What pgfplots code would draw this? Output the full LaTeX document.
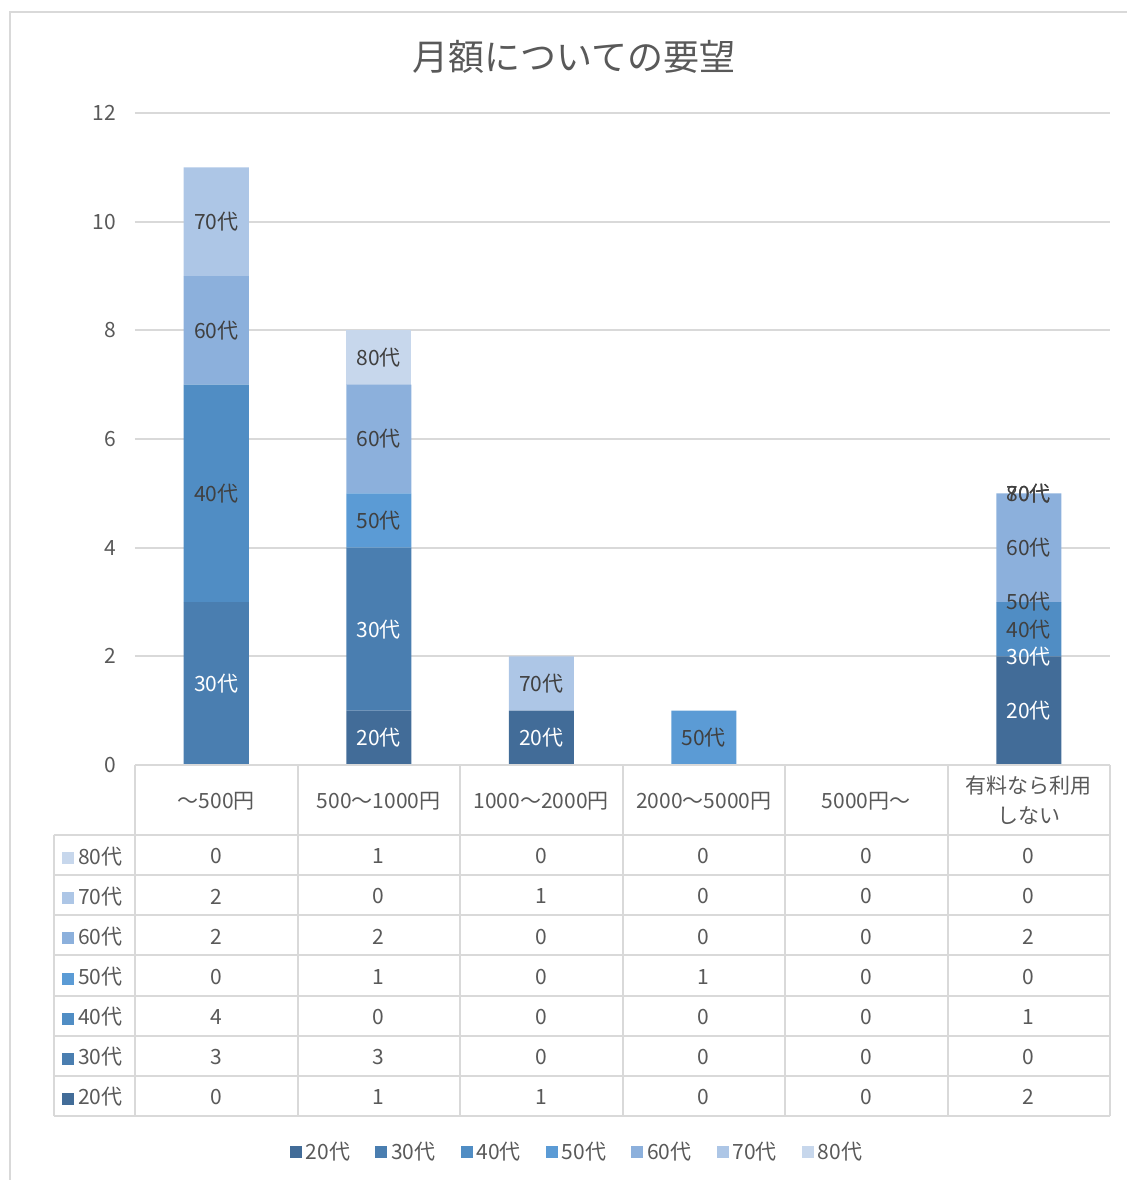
\documentclass[border=0pt]{standalone}
\usepackage{pgfplots}
\pgfplotsset{compat=1.18}
\usepackage{pgfplotstable}
\usepackage{fontspec}
\setmainfont{Noto Sans CJK JP}
\definecolor{c20}{HTML}{426C98}
\definecolor{c30}{HTML}{4A7EB0}
\definecolor{c40}{HTML}{508DC4}
\definecolor{c50}{HTML}{5B9BD5}
\definecolor{c60}{HTML}{8CB0DC}
\definecolor{c70}{HTML}{ADC6E6}
\definecolor{c80}{HTML}{C7D7EC}
\definecolor{txt}{HTML}{595959}
\definecolor{lbl}{HTML}{404040}
\definecolor{gridc}{HTML}{D9D9D9}
\newcommand{\fs}{\fontsize{10.5}{15}\selectfont}

\pgfplotstableread{
x a20 a30 a40 a50 a60 a70 a80
0 0 3 4 0 2 2 0
1 1 3 0 1 2 0 1
2 1 0 0 0 0 1 0
3 0 0 0 1 0 0 0
4 0 0 0 0 0 0 0
5 2 0 1 0 2 0 0
}\datatable

\pgfplotsset{
  % label of one segment: shown where the value is nonzero, and for every segment of the last category
  seglbl/.style n args={3}{draw=none, mark=none, forget plot,
    nodes near coords={#2},
    every node near coord/.append style={text=#3},
    x filter/.expression={(\thisrow{#1}>0 || x>4.5) ? x : nan},
  },
  trow/.style={draw=none, mark=none, nodes near coords, point meta=explicit,
    forget plot},
  geom/.style={width=487.5pt, height=326pt, scale only axis,
    xmin=-0.5, xmax=5.5, ymin=0, ymax=12, clip=false},
}

\begin{document}
\begin{tikzpicture}
\useasboundingbox (0pt,0pt) rectangle (563.5pt,-590pt);
\draw[gridc, line width=1pt] (5pt,-592pt) -- (5pt,-6pt) -- (566pt,-6pt);
\node[font=\fontsize{18}{20}\selectfont, text=txt] at (287pt,-28.5pt) {月額についての要望};

\begin{axis}[
  geom,
  at={(67.5pt,-382.5pt)}, anchor=south west,
  ybar stacked, bar width=0.4,
  axis lines*=left, axis line style={draw=none},
  ytick={0,2,...,12}, xtick=\empty,
  ymajorgrids, grid style={gridc, line width=1pt},
  major tick length=0pt,
  tick label style={font=\fs, text=txt},
  yticklabel style={xshift=-6pt},
  /pgf/number format/assume math mode=true,
  legend columns=7,
  legend style={at={(0.4544,-0.594)}, anchor=center, draw=none, fill=none,
     font=\fs, text=txt,
     /tikz/every even column/.append style={column sep=10.5pt}},
  legend image code/.code={\fill[#1,draw=none] (0pt,-3pt) rectangle (6pt,3pt);},
]
\addplot[fill=c20, draw=none] table[x=x,y=a20]{\datatable};
\addplot[fill=c30, draw=none] table[x=x,y=a30]{\datatable};
\addplot[fill=c40, draw=none] table[x=x,y=a40]{\datatable};
\addplot[fill=c50, draw=none] table[x=x,y=a50]{\datatable};
\addplot[fill=c60, draw=none] table[x=x,y=a60]{\datatable};
\addplot[fill=c70, draw=none] table[x=x,y=a70]{\datatable};
\addplot[fill=c80, draw=none] table[x=x,y=a80]{\datatable};
\legend{20代,30代,40代,50代,60代,70代,80代}
\end{axis}

% segment labels, at the middle of each stacked segment
\begin{axis}[
  geom,
  at={(67.5pt,-382.5pt)}, anchor=south west,
  hide axis,
  every node near coord/.append style={font=\fs, anchor=center},
]
\addplot[seglbl={a20}{20代}{white}] table[x=x, y expr=\thisrow{a20}/2]{\datatable};
\addplot[seglbl={a30}{30代}{white}] table[x=x, y expr=\thisrow{a20}+\thisrow{a30}/2]{\datatable};
\addplot[seglbl={a40}{40代}{lbl}] table[x=x, y expr=\thisrow{a20}+\thisrow{a30}+\thisrow{a40}/2]{\datatable};
\addplot[seglbl={a50}{50代}{lbl}] table[x=x, y expr=\thisrow{a20}+\thisrow{a30}+\thisrow{a40}+\thisrow{a50}/2]{\datatable};
\addplot[seglbl={a60}{60代}{lbl}] table[x=x, y expr=\thisrow{a20}+\thisrow{a30}+\thisrow{a40}+\thisrow{a50}+\thisrow{a60}/2]{\datatable};
\addplot[seglbl={a70}{70代}{lbl}] table[x=x, y expr=\thisrow{a20}+\thisrow{a30}+\thisrow{a40}+\thisrow{a50}+\thisrow{a60}+\thisrow{a70}/2]{\datatable};
\addplot[seglbl={a80}{80代}{lbl}] table[x=x, y expr=\thisrow{a20}+\thisrow{a30}+\thisrow{a40}+\thisrow{a50}+\thisrow{a60}+\thisrow{a70}+\thisrow{a80}/2]{\datatable};
\end{axis}

\begin{axis}[
  at={(67.5pt,-558pt)}, anchor=south west,
  width=487.5pt, height=175.5pt, scale only axis,
  xmin=-0.5, xmax=5.5, ymin=0, ymax=8.7438,
  hide axis, clip=false,
  /pgf/number format/assume math mode=true,
  every node near coord/.style={anchor=center, font=\fs, text=txt, inner sep=0pt, yshift=-0.6pt},
]
\addplot[trow] table[x=x, y expr=6.5, meta=a80]{\datatable};
\addplot[trow] table[x=x, y expr=5.5, meta=a70]{\datatable};
\addplot[trow] table[x=x, y expr=4.5, meta=a60]{\datatable};
\addplot[trow] table[x=x, y expr=3.5, meta=a50]{\datatable};
\addplot[trow] table[x=x, y expr=2.5, meta=a40]{\datatable};
\addplot[trow] table[x=x, y expr=1.5, meta=a30]{\datatable};
\addplot[trow] table[x=x, y expr=0.5, meta=a20]{\datatable};
\pgfplotsinvokeforeach{0,...,7}{
  \draw[gridc, line width=1pt] (axis cs:-1,#1) -- (axis cs:5.5,#1);
}
\pgfplotsinvokeforeach{-0.5,0.5,1.5,2.5,3.5,4.5,5.5}{
  \draw[gridc, line width=1pt] (axis cs:#1,0) -- (axis cs:#1,8.7438);
}
\draw[gridc, line width=1pt] (axis cs:-1,0) -- (axis cs:-1,7);
\draw[gridc, line width=1pt] (axis cs:-0.5,8.7438) -- (axis cs:5.5,8.7438);
\node[font=\fs, text=txt] at (axis cs:0,7.83) {～500円};
\node[font=\fs, text=txt] at (axis cs:1,7.83) {500～1000円};
\node[font=\fs, text=txt] at (axis cs:2,7.83) {1000～2000円};
\node[font=\fs, text=txt] at (axis cs:3,7.83) {2000～5000円};
\node[font=\fs, text=txt] at (axis cs:4,7.83) {5000円～};
\node[font=\fs, text=txt, align=center] at (axis cs:5,7.87) {有料なら利用\\しない};
\node[font=\fs, text=txt, anchor=west, inner sep=0pt, yshift=-0.6pt] at (axis cs:-0.951,6.5) {\textcolor{c80}{\rule{6pt}{6pt}}\hspace{2pt}80代};
\node[font=\fs, text=txt, anchor=west, inner sep=0pt, yshift=-0.6pt] at (axis cs:-0.951,5.5) {\textcolor{c70}{\rule{6pt}{6pt}}\hspace{2pt}70代};
\node[font=\fs, text=txt, anchor=west, inner sep=0pt, yshift=-0.6pt] at (axis cs:-0.951,4.5) {\textcolor{c60}{\rule{6pt}{6pt}}\hspace{2pt}60代};
\node[font=\fs, text=txt, anchor=west, inner sep=0pt, yshift=-0.6pt] at (axis cs:-0.951,3.5) {\textcolor{c50}{\rule{6pt}{6pt}}\hspace{2pt}50代};
\node[font=\fs, text=txt, anchor=west, inner sep=0pt, yshift=-0.6pt] at (axis cs:-0.951,2.5) {\textcolor{c40}{\rule{6pt}{6pt}}\hspace{2pt}40代};
\node[font=\fs, text=txt, anchor=west, inner sep=0pt, yshift=-0.6pt] at (axis cs:-0.951,1.5) {\textcolor{c30}{\rule{6pt}{6pt}}\hspace{2pt}30代};
\node[font=\fs, text=txt, anchor=west, inner sep=0pt, yshift=-0.6pt] at (axis cs:-0.951,0.5) {\textcolor{c20}{\rule{6pt}{6pt}}\hspace{2pt}20代};
\end{axis}
\end{tikzpicture}
\end{document}
